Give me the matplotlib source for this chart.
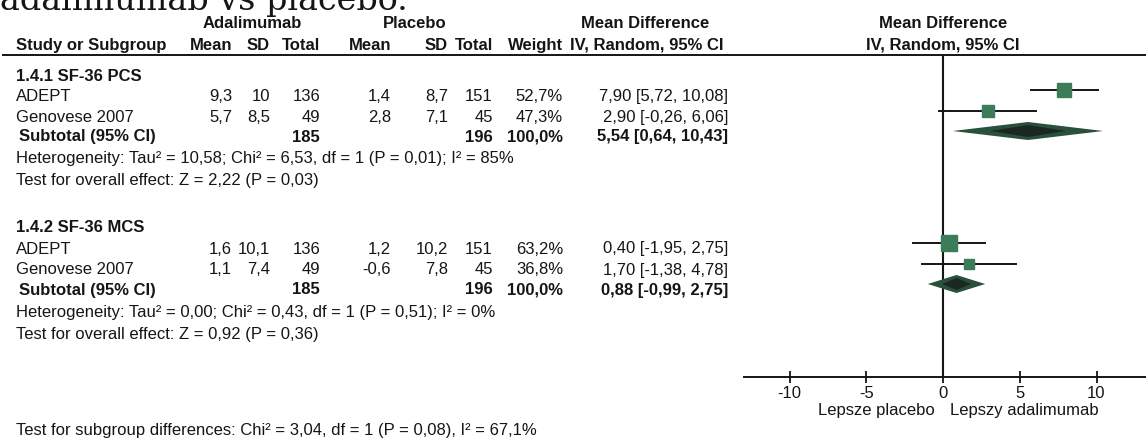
import matplotlib
matplotlib.use('Agg')
import matplotlib.pyplot as plt

plt.rcParams['font.family'] = ['Liberation Sans', 'DejaVu Sans']

# dane z metaanalizy SF-36 (adalimumab vs placebo)
groups = ['1.4.1 SF-36 PCS', '1.4.2 SF-36 MCS']
studies = [['ADEPT', 'Genovese 2007'], ['ADEPT', 'Genovese 2007']]
ada_mean = [[9.3, 5.7], [1.6, 1.1]]
ada_sd = [[10, 8.5], [10.1, 7.4]]
ada_n = [[136, 49], [136, 49]]
pla_mean = [[1.4, 2.8], [1.2, -0.6]]
pla_sd = [[8.7, 7.1], [10.2, 7.8]]
pla_n = [[151, 45], [151, 45]]
weight = [[52.7, 47.3], [63.2, 36.8]]
md = [[7.90, 2.90], [0.40, 1.70]]
ci_lo = [[5.72, -0.26], [-1.95, -1.38]]
ci_hi = [[10.08, 6.06], [2.75, 4.78]]
sub_ada_n = [185, 185]
sub_pla_n = [196, 196]
sub_md = [5.54, 0.88]
sub_lo = [0.64, -0.99]
sub_hi = [10.43, 2.75]
het = ['Heterogeneity: Tau² = 10,58; Chi² = 6,53, df = 1 (P = 0,01); I² = 85%',
       'Heterogeneity: Tau² = 0,00; Chi² = 0,43, df = 1 (P = 0,51); I² = 0%']
overall = ['Test for overall effect: Z = 2,22 (P = 0,03)',
           'Test for overall effect: Z = 0,92 (P = 0,36)']
subgroup_test = 'Test for subgroup differences: Chi² = 3,04, df = 1 (P = 0,08), I² = 67,1%'
ticks = [-10, -5, 0, 5, 10]
favours = ['Lepsze placebo', 'Lepszy adalimumab']


def pl(v, d=None):
    # przecinek dziesietny
    s = str(v) if d is None else f'{v:.{d}f}'
    return s.replace('.', ',')


W, H = 1146, 443
fig = plt.figure(figsize=(W / 100, H / 100), dpi=100)
tx = fig.add_axes([0, 0, 1, 1])
tx.set_xlim(0, W)
tx.set_ylim(H, 0)
tx.axis('off')

fs = 12
ink = '#151515'
x_left = 16
col = {'am': 232, 'asd': 270, 'an': 320, 'pm': 391, 'psd': 448, 'pn': 493, 'w': 563, 'ci': 728}

# uciety tytul nad tabela
tx.text(0, 10, 'adalimumab vs placebo.', family='DejaVu Serif', fontsize=24, color=ink, va='baseline')

# naglowki
y_h1, y_h2, y_line = 23, 45, 55
for s, x in [('Adalimumab', 252), ('Placebo', 415), ('Mean Difference', 645), ('Mean Difference', 943)]:
    tx.text(x, y_h1, s, ha='center', va='center', fontsize=fs, weight='bold', color=ink)
tx.text(x_left, y_h2, 'Study or Subgroup', ha='left', va='center', fontsize=fs, weight='bold', color=ink)
for s, k in [('Mean', 'am'), ('SD', 'asd'), ('Total', 'an'), ('Mean', 'pm'), ('SD', 'psd'), ('Total', 'pn'), ('Weight', 'w')]:
    tx.text(col[k], y_h2, s, ha='right', va='center', fontsize=fs, weight='bold', color=ink)
tx.text(647, y_h2, 'IV, Random, 95% CI', ha='center', va='center', fontsize=fs, weight='bold', color=ink)
tx.text(943, y_h2, 'IV, Random, 95% CI', ha='center', va='center', fontsize=fs, weight='bold', color=ink)
tx.plot([3, W], [y_line, y_line], color=ink, lw=1.4)

# wiersze tabeli (piksele)
title_y = [76, 227]
row_y = [[96, 117], [249, 270]]
sub_y = [137, 290]
het_y = [159, 312]
ov_y = [180, 334]
mark_shift = -6  # znaczniki na wykresie lekko wyzej niz tekst

# panel z wykresem
zero_px, px_unit = 943, 15.35
ax_left, ax_y = 744, 377
fa = fig.add_axes([ax_left / W, (H - ax_y) / H, (W - ax_left) / W, (ax_y - y_line) / H])
fa.set_xlim((ax_left - zero_px) / px_unit, (W - zero_px) / px_unit)
fa.set_ylim(ax_y, y_line)
fa.patch.set_alpha(0)
for sp in ['top', 'left', 'right']:
    fa.spines[sp].set_visible(False)
fa.spines['bottom'].set_linewidth(1.4)
fa.spines['bottom'].set_color(ink)
fa.set_yticks([])
fa.set_xticks(ticks)
fa.set_xticklabels([str(t) for t in ticks], fontsize=fs, color=ink)
fa.tick_params(axis='x', direction='inout', length=9, width=1.3, color=ink, pad=2)
fa.axvline(0, color=ink, lw=1.5)

sq_col = '#3d7c59'
dia_col = '#28503b'
dia_core = '#1b2723'
for g in range(2):
    tx.text(x_left, title_y[g], groups[g], ha='left', va='center', fontsize=fs, weight='bold', color=ink)
    for i in range(2):
        y = row_y[g][i]
        tx.text(x_left, y, studies[g][i], ha='left', va='center', fontsize=fs, color=ink)
        vals = [(pl(ada_mean[g][i]), 'am'), (pl(ada_sd[g][i]), 'asd'), (str(ada_n[g][i]), 'an'),
                (pl(pla_mean[g][i]), 'pm'), (pl(pla_sd[g][i]), 'psd'), (str(pla_n[g][i]), 'pn'),
                (pl(weight[g][i], 1) + '%', 'w'),
                (f'{pl(md[g][i], 2)} [{pl(ci_lo[g][i], 2)}, {pl(ci_hi[g][i], 2)}]', 'ci')]
        for s, k in vals:
            tx.text(col[k], y, s, ha='right', va='center', fontsize=fs, color=ink)
        ym = y + mark_shift
        fa.plot([ci_lo[g][i], ci_hi[g][i]], [ym, ym], color=ink, lw=1.4, zorder=2)
        fa.plot(md[g][i], ym, 's', ms=weight[g][i] * 0.25 * 0.72, color=sq_col, mec=sq_col, zorder=3)

    y = sub_y[g]
    tx.text(x_left + 3, y, 'Subtotal (95% CI)', ha='left', va='center', fontsize=fs, weight='bold', color=ink)
    for s, k in [(str(sub_ada_n[g]), 'an'), (str(sub_pla_n[g]), 'pn'), ('100,0%', 'w'),
                 (f'{pl(sub_md[g], 2)} [{pl(sub_lo[g], 2)}, {pl(sub_hi[g], 2)}]', 'ci')]:
        tx.text(col[k], y, s, ha='right', va='center', fontsize=fs, weight='bold', color=ink)
    ym = y + mark_shift
    m, lo, hi = sub_md[g], sub_lo[g], sub_hi[g]
    fa.fill([lo, m, hi, m], [ym, ym - 9, ym, ym + 9], color=dia_col, lw=0, zorder=3)
    fa.fill([m - (m - lo) * 0.5, m, m + (hi - m) * 0.5, m], [ym, ym - 6, ym, ym + 6], color=dia_core, lw=0, zorder=4)

    tx.text(x_left, het_y[g], het[g], ha='left', va='center', fontsize=fs, color=ink)
    tx.text(x_left, ov_y[g], overall[g], ha='left', va='center', fontsize=fs, color=ink)

tx.text(x_left, 430, subgroup_test, ha='left', va='center', fontsize=fs, color=ink)
tx.text(zero_px - 8, 411, favours[0], ha='right', va='center', fontsize=fs, color=ink)
tx.text(zero_px + 7, 411, favours[1], ha='left', va='center', fontsize=fs, color=ink)

fig.savefig('out.png', dpi=100, facecolor='white')
